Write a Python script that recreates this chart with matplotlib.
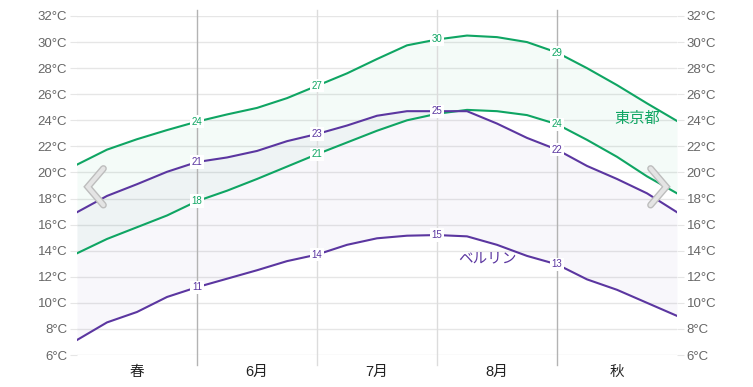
import numpy as np
import matplotlib
matplotlib.use("Agg")
import matplotlib.pyplot as plt

plt.rcParams['font.family'] = ['Liberation Sans', 'Noto Sans CJK JP', 'DejaVu Sans']

# x in months from the start of the window (step of a quarter month)
x = np.arange(21) * 0.25

tokyo_high = [20.6, 21.75, 22.55, 23.25, 23.9, 24.45, 24.95, 25.7, 26.65, 27.6, 28.7,
              29.75, 30.2, 30.5, 30.38, 30.0, 29.2, 28.0, 26.7, 25.3, 23.95]
tokyo_low = [13.8, 14.9, 15.8, 16.7, 17.8, 18.6, 19.5, 20.45, 21.4, 22.3, 23.2,
             24.0, 24.5, 24.8, 24.7, 24.4, 23.7, 22.5, 21.2, 19.7, 18.4]
berlin_high = [16.95, 18.2, 19.1, 20.05, 20.8, 21.15, 21.65, 22.4, 22.95, 23.6, 24.35,
               24.7, 24.7, 24.7, 23.75, 22.65, 21.75, 20.5, 19.5, 18.4, 16.95]
berlin_low = [7.15, 8.5, 9.3, 10.45, 11.2, 11.85, 12.5, 13.2, 13.7, 14.45, 14.95,
              15.15, 15.2, 15.1, 14.45, 13.6, 12.95, 11.8, 11.0, 10.0, 9.0]

# labels shown at each month boundary ('' = hidden behind the other city's label)
label_idx = [4, 8, 12, 16]
tokyo_high_lbl = ['24', '27', '30', '29']
tokyo_low_lbl = ['18', '21', '', '24']
berlin_high_lbl = ['21', '23', '25', '22']
berlin_low_lbl = ['11', '14', '15', '13']

month_pos = [0.5, 1.5, 2.5, 3.5, 4.5]
month_names = ['春', '6月', '7月', '8月', '秋']
yticks = list(range(6, 33, 2))

green = '#0fa563'
purple = '#5b36a0'
grid_c = '#e6e6e6'

fig = plt.figure(figsize=(7.53, 3.87), dpi=100)
ax = fig.add_axes([77/753, 32/387, 600/753, 339/387])
ax.set_xlim(0, 5)
ax.set_ylim(6, 32)

# bands
ax.fill_between(x, tokyo_low, tokyo_high, color=green, alpha=0.045, lw=0)
ax.fill_between(x, berlin_low, berlin_high, color=purple, alpha=0.04, lw=0)

for v in yticks:
    ax.axhline(v, color=grid_c, lw=1, zorder=0)
for v, c in zip([1, 2, 3, 4], ['#b3b3b3', '#dcdcdc', '#dcdcdc', '#b3b3b3']):
    ax.axvline(v, ymin=-0.03, ymax=1.018, color=c, lw=1, clip_on=False, zorder=1)

series = [(tokyo_high, tokyo_high_lbl, green), (tokyo_low, tokyo_low_lbl, green),
          (berlin_high, berlin_high_lbl, purple), (berlin_low, berlin_low_lbl, purple)]
box = dict(facecolor='white', edgecolor='none', pad=1.2)
for ys, lbls, c in series:
    ax.plot(x, ys, color=c, lw=1.5, zorder=3)
for ys, lbls, c in series:
    for i, t in zip(label_idx, lbls):
        if t:
            ax.text(x[i], ys[i], t, color=c, fontsize=7, ha='center', va='center',
                    bbox=box, zorder=4)

ax.text(4.67, 24.1, '東京都', color=green, fontsize=11, ha='center', va='center', zorder=4)
ax.text(3.42, 13.4, 'ベルリン', color=purple, fontsize=10.5, ha='center', va='center', zorder=4)

# scroll chevrons (outlined look)
for xs in ([0.22, 0.09, 0.22], [4.78, 4.91, 4.78]):
    ax.plot(xs, [20.3, 18.9, 17.5], color='#bdbdbd', lw=5,
            solid_capstyle='round', solid_joinstyle='miter', zorder=5)
    ax.plot(xs, [20.3, 18.9, 17.5], color='#e4e4e4', lw=3,
            solid_capstyle='round', solid_joinstyle='miter', zorder=6)

ax.set_yticks(yticks)
ax.set_yticklabels([f'{v}°C' for v in yticks])
ax.set_xticks(month_pos)
ax.set_xticklabels(month_names)
ax.tick_params(axis='y', left=True, right=True, labelleft=True, labelright=True,
               length=5, color=grid_c, pad=2, labelsize=9.5, labelcolor='#666666')
ax.tick_params(axis='x', length=0, pad=7, labelsize=10.5, labelcolor='#222222')
for s in ax.spines.values():
    s.set_visible(False)

fig.savefig('out.png', dpi=100)
